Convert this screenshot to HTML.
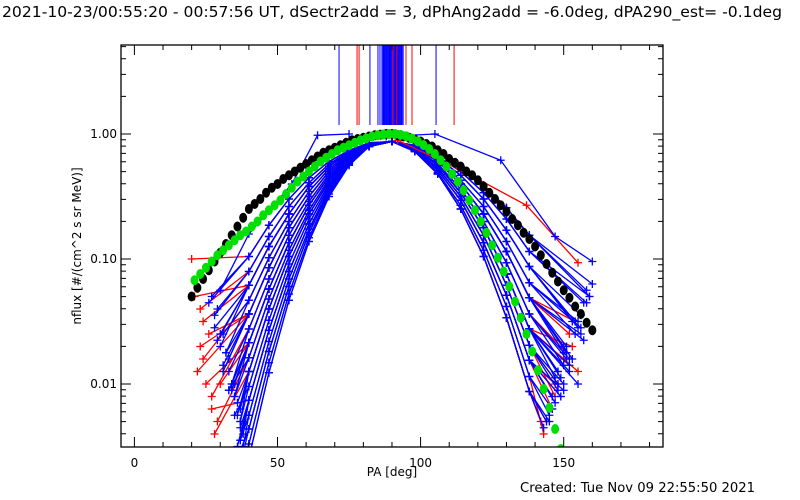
<!DOCTYPE html>
<html><head><meta charset="utf-8"><style>
body{margin:0;background:#fff;}
svg{display:block;font-family:"DejaVu Sans","Liberation Sans",sans-serif;}
</style></head><body>
<svg id="chart" width="800" height="500" viewBox="0 0 800 500">
<rect width="800" height="500" fill="#fff"/>
<text x="392" y="17" font-size="15.5" text-anchor="middle" textLength="780" lengthAdjust="spacingAndGlyphs">2021-10-23/00:55:20 - 00:57:56 UT, dSectr2add = 3, dPhAng2add = -6.0deg, dPA290_est= -0.1deg</text>
<g id="plot"></g>
<g id="axes"></g>
<text x="392" y="476" font-size="12" text-anchor="middle">PA [deg]</text>
<text transform="translate(81,246) rotate(-90)" font-size="12" text-anchor="middle">nflux [#/(cm^2 s sr MeV)]</text>
<text x="755" y="492" font-size="13" text-anchor="end" textLength="235" lengthAdjust="spacingAndGlyphs">Created: Tue Nov 09 22:55:50 2021</text>
</svg>
<script>
// ---- data ----
const xTicks = [0, 50, 100, 150];
const yTickVals = [0.01, 0.1, 1.0];
const yTickLabels = ["0.01", "0.10", "1.00"];
const gridPA = [40, 47, 54, 61, 68, 75, 82, 90, 98, 106, 114, 122, 130, 138];

const blueStartPA = [27,30,33,35,37,38,36,34,26,29,31,33,36,37,35,38,28,32,34,36,37,38,31,35,37,36,30,34, 29,31,33,35,37,38,36,28,32,34,33,35,37,38];
const blueStartLog = [-1.3,-1.6,-1.8,-2.0,-2.2,-2.4,-2.6,-2.9,-1.35,-1.65,-1.85,-2.05,-2.25,-2.45,-2.65,-2.95,-1.55,-1.75,-2.0,-2.15,-2.35,-2.55,-1.9,-2.1,-2.3,-2.5,-1.7,-2.05, -1.4,-1.6,-1.9,-2.1,-2.3,-2.5,-2.7,-1.45,-1.75,-2.0,-2.05,-2.25,-2.45,-2.7];
const blueGridLog = [
[-0.98,-0.73,-0.52,-0.35,-0.22,-0.13,-0.07,-0.06,-0.09,-0.16,-0.26,-0.41,-0.59,-0.81],
[-1.21,-0.90,-0.64,-0.42,-0.26,-0.14,-0.08,-0.06,-0.10,-0.19,-0.33,-0.52,-0.77,-1.06],
[-1.44,-1.07,-0.75,-0.50,-0.30,-0.16,-0.08,-0.06,-0.11,-0.22,-0.40,-0.64,-0.94,-1.31],
[-1.67,-1.24,-0.87,-0.57,-0.34,-0.18,-0.09,-0.06,-0.12,-0.25,-0.47,-0.75,-1.12,-1.56],
[-1.90,-1.40,-0.98,-0.64,-0.38,-0.20,-0.09,-0.06,-0.13,-0.29,-0.53,-0.87,-1.29,-1.81],
[-2.13,-1.57,-1.10,-0.72,-0.42,-0.21,-0.09,-0.06,-0.14,-0.32,-0.60,-0.98,-1.47,-2.06],
[-2.36,-1.74,-1.22,-0.79,-0.46,-0.23,-0.10,-0.06,-0.11,-0.22,-0.40,-0.64,-0.94,-1.31],
[-2.59,-1.91,-1.33,-0.86,-0.50,-0.25,-0.10,-0.06,-0.12,-0.25,-0.47,-0.75,-1.12,-1.56],
[-0.98,-0.73,-0.52,-0.35,-0.22,-0.13,-0.07,-0.06,-0.11,-0.22,-0.40,-0.64,-0.94,-1.31],
[-1.21,-0.90,-0.64,-0.42,-0.26,-0.14,-0.08,-0.06,-0.12,-0.25,-0.47,-0.75,-1.12,-1.56],
[-1.44,-1.07,-0.75,-0.50,-0.30,-0.16,-0.08,-0.06,-0.13,-0.29,-0.53,-0.87,-1.29,-1.81],
[-1.67,-1.24,-0.87,-0.57,-0.34,-0.18,-0.09,-0.06,-0.14,-0.32,-0.60,-0.98,-1.47,-2.06],
[-1.90,-1.40,-0.98,-0.64,-0.38,-0.20,-0.09,-0.06,-0.09,-0.16,-0.26,-0.41,-0.59,-0.81],
[-2.13,-1.57,-1.10,-0.72,-0.42,-0.21,-0.09,-0.06,-0.10,-0.19,-0.33,-0.52,-0.77,-1.06],
[-2.36,-1.74,-1.22,-0.79,-0.46,-0.23,-0.10,-0.06,-0.13,-0.29,-0.53,-0.87,-1.29,-1.81],
[-2.59,-1.91,-1.33,-0.86,-0.50,-0.25,-0.10,-0.06,-0.14,-0.32,-0.60,-0.98,-1.47,-2.06],
[-1.21,-0.90,-0.64,-0.42,-0.26,-0.14,-0.08,-0.06,-0.09,-0.16,-0.26,-0.41,-0.59,-0.81],
[-1.44,-1.07,-0.75,-0.50,-0.30,-0.16,-0.08,-0.06,-0.10,-0.19,-0.33,-0.52,-0.77,-1.06],
[-1.67,-1.24,-0.87,-0.57,-0.34,-0.18,-0.09,-0.06,-0.10,-0.19,-0.33,-0.52,-0.77,-1.06],
[-1.90,-1.40,-0.98,-0.64,-0.38,-0.20,-0.09,-0.06,-0.11,-0.22,-0.40,-0.64,-0.94,-1.31],
[-2.13,-1.57,-1.10,-0.72,-0.42,-0.21,-0.09,-0.06,-0.12,-0.25,-0.47,-0.75,-1.12,-1.56],
[-2.36,-1.74,-1.22,-0.79,-0.46,-0.23,-0.10,-0.06,-0.12,-0.25,-0.47,-0.75,-1.12,-1.56],
[-1.44,-1.07,-0.75,-0.50,-0.30,-0.16,-0.08,-0.06,-0.12,-0.25,-0.47,-0.75,-1.12,-1.56],
[-1.67,-1.24,-0.87,-0.57,-0.34,-0.18,-0.09,-0.06,-0.11,-0.22,-0.40,-0.64,-0.94,-1.31],
[-1.90,-1.40,-0.98,-0.64,-0.38,-0.20,-0.09,-0.06,-0.12,-0.25,-0.47,-0.75,-1.12,-1.56],
[-2.13,-1.57,-1.10,-0.72,-0.42,-0.21,-0.09,-0.06,-0.11,-0.22,-0.40,-0.64,-0.94,-1.31],
[-1.21,-0.90,-0.64,-0.42,-0.26,-0.14,-0.08,-0.06,-0.11,-0.22,-0.40,-0.64,-0.94,-1.31],
[-1.67,-1.24,-0.87,-0.57,-0.34,-0.18,-0.09,-0.06,-0.13,-0.29,-0.53,-0.87,-1.29,-1.81],
[-1.10,-0.82,-0.58,-0.39,-0.24,-0.14,-0.08,-0.06,-0.10,-0.18,-0.30,-0.47,-0.68,-0.94],
[-1.33,-0.99,-0.70,-0.46,-0.28,-0.15,-0.08,-0.06,-0.11,-0.21,-0.37,-0.58,-0.86,-1.19],
[-1.56,-1.16,-0.81,-0.54,-0.32,-0.17,-0.09,-0.06,-0.12,-0.24,-0.44,-0.70,-1.03,-1.44],
[-1.79,-1.32,-0.93,-0.61,-0.36,-0.19,-0.09,-0.06,-0.13,-0.27,-0.50,-0.81,-1.21,-1.69],
[-2.02,-1.49,-1.04,-0.68,-0.40,-0.21,-0.09,-0.06,-0.14,-0.31,-0.57,-0.93,-1.38,-1.94],
[-2.25,-1.66,-1.16,-0.76,-0.44,-0.22,-0.10,-0.06,-0.10,-0.18,-0.30,-0.47,-0.68,-0.94],
[-2.48,-1.83,-1.28,-0.83,-0.48,-0.24,-0.10,-0.06,-0.11,-0.21,-0.37,-0.58,-0.86,-1.19],
[-1.10,-0.82,-0.58,-0.39,-0.24,-0.14,-0.08,-0.06,-0.12,-0.24,-0.44,-0.70,-1.03,-1.44],
[-1.33,-0.99,-0.70,-0.46,-0.28,-0.15,-0.08,-0.06,-0.13,-0.27,-0.50,-0.81,-1.21,-1.69],
[-1.56,-1.16,-0.81,-0.54,-0.32,-0.17,-0.09,-0.06,-0.14,-0.31,-0.57,-0.93,-1.38,-1.94],
[-1.79,-1.32,-0.93,-0.61,-0.36,-0.19,-0.09,-0.06,-0.10,-0.18,-0.30,-0.47,-0.68,-0.94],
[-2.02,-1.49,-1.04,-0.68,-0.40,-0.21,-0.09,-0.06,-0.11,-0.21,-0.37,-0.58,-0.86,-1.19],
[-2.25,-1.66,-1.16,-0.76,-0.44,-0.22,-0.10,-0.06,-0.12,-0.24,-0.44,-0.70,-1.03,-1.44],
[-2.48,-1.83,-1.28,-0.83,-0.48,-0.24,-0.10,-0.06,-0.13,-0.27,-0.50,-0.81,-1.21,-1.69]
];
const blueEndPA = [158,154,151,148,146,144,150,147,157,152,149,145,160,156,147,143,159,155,153,150,149,152,155,153,148,151,156,150, 157,154,151,148,146,159,155,150,148,145,158,156,152,150];
const blueEndLog = [-1.25,-1.5,-1.7,-1.9,-2.1,-2.3,-1.75,-1.95,-1.65,-1.85,-2.1,-2.3,-1.2,-1.45,-2.15,-2.35,-1.3,-1.55,-1.5,-1.7,-1.95,-1.9,-2.0,-1.8,-1.9,-1.75,-1.6,-2.05, -1.35,-1.6,-1.8,-2.0,-2.2,-1.3,-1.5,-1.85,-2.05,-2.25,-1.35,-1.55,-1.8,-2.0];
const blueOutlierPA = [88, 105, 128, 147, 160];
const blueOutlierLog = [-0.02, 0.0, -0.21, -0.82, -1.02];
const blueOutlier2PA = [30, 40, 55, 64, 75];
const blueOutlier2Log = [-1.25, -0.8, -0.4, -0.01, 0.0];

const redStartPA = [20, 23, 25, 28, 24, 27, 22, 30, 21, 26, 24, 29, 23, 27];
const redStartLog = [-1.0, -1.7, -2.0, -2.4, -1.5, -2.2, -1.9, -2.0, -1.3, -1.6, -1.8, -2.3, -1.4, -2.1];
const redGridLog = [
[-0.98,-0.73,-0.52,-0.35,-0.22,-0.13,-0.07,-0.06,-0.12,-0.25,-0.47,-0.75,-1.12,-1.56],
[-1.44,-1.07,-0.75,-0.50,-0.30,-0.16,-0.08,-0.06,-0.13,-0.29,-0.53,-0.87,-1.29,-1.81],
[-1.67,-1.24,-0.87,-0.57,-0.34,-0.18,-0.09,-0.06,-0.11,-0.22,-0.40,-0.64,-0.94,-1.31],
[-1.90,-1.40,-0.98,-0.64,-0.38,-0.20,-0.09,-0.06,-0.14,-0.32,-0.60,-0.98,-1.47,-2.06],
[-1.21,-0.90,-0.64,-0.42,-0.26,-0.14,-0.08,-0.06,-0.12,-0.25,-0.47,-0.75,-1.12,-1.56],
[-2.13,-1.57,-1.10,-0.72,-0.42,-0.21,-0.09,-0.06,-0.13,-0.29,-0.53,-0.87,-1.29,-1.81],
[-1.44,-1.07,-0.75,-0.50,-0.30,-0.16,-0.08,-0.06,-0.14,-0.32,-0.60,-0.98,-1.47,-2.06],
[-1.67,-1.24,-0.87,-0.57,-0.34,-0.18,-0.09,-0.06,-0.12,-0.25,-0.47,-0.75,-1.12,-1.56],
[-1.21,-0.90,-0.64,-0.42,-0.26,-0.14,-0.08,-0.06,-0.13,-0.29,-0.53,-0.87,-1.29,-1.81],
[-1.44,-1.07,-0.75,-0.50,-0.30,-0.16,-0.08,-0.06,-0.11,-0.22,-0.40,-0.64,-0.94,-1.31],
[-1.33,-0.99,-0.70,-0.46,-0.28,-0.15,-0.08,-0.06,-0.13,-0.27,-0.50,-0.81,-1.21,-1.69],
[-1.79,-1.32,-0.93,-0.61,-0.36,-0.19,-0.09,-0.06,-0.14,-0.31,-0.57,-0.93,-1.38,-1.94],
[-1.10,-0.82,-0.58,-0.39,-0.24,-0.14,-0.08,-0.06,-0.12,-0.24,-0.44,-0.70,-1.03,-1.44],
[-1.56,-1.16,-0.81,-0.54,-0.32,-0.17,-0.09,-0.06,-0.13,-0.27,-0.50,-0.81,-1.21,-1.69]
];
const redEndPA = [150, 147, 152, 144, 155, 149, 142, 153, 146, 154, 148, 143, 151, 147];
const redEndLog = [-1.8, -2.0, -1.6, -2.3, -1.9, -2.1, -2.3, -1.7, -2.2, -1.5, -2.0, -2.4, -1.75, -2.1];
const redOutlierPA = [92, 115, 137, 155];
const redOutlierLog = [-0.05, -0.3, -0.57, -1.03];

const blackPA = [20,22,24,26,28,30,32,34,36,38,40,42,44,46,48,50,52,54,56,58,60,62,64,66,68,70,72,74,76,78,80,82,84,86,88,90,92,94,96,98,100,102,104,106,108,110,112,114,116,118,120,122,124,126,128,130,132,134,136,138,140,142,144,146,148,150,152,154,156,158,160];
const blackLog = [-1.30,-1.23,-1.16,-1.09,-1.02,-0.95,-0.88,-0.81,-0.74,-0.67,-0.60,-0.56,-0.52,-0.47,-0.43,-0.40,-0.36,-0.33,-0.30,-0.27,-0.24,-0.21,-0.18,-0.15,-0.13,-0.11,-0.09,-0.07,-0.05,-0.04,-0.03,-0.02,-0.01,-0.005,0,0,-0.01,-0.02,-0.03,-0.045,-0.06,-0.08,-0.10,-0.13,-0.16,-0.20,-0.23,-0.26,-0.30,-0.33,-0.37,-0.42,-0.47,-0.52,-0.57,-0.62,-0.68,-0.73,-0.79,-0.84,-0.90,-0.97,-1.04,-1.11,-1.18,-1.25,-1.31,-1.38,-1.44,-1.51,-1.57];

const greenPA = [21,23,25,27,29,31,33,35,37,39,41,43,45,47,49,51,53,55,57,59,61,63,65,67,69,71,73,75,77,79,81,83,85,87,89,91,93,95,97,99,101,103,105,107,109,111,113,115,117,119,121,123,125,127,129,131,133,135,137,139,141,143,145,147,149];
const greenLog = [-1.17,-1.12,-1.07,-1.02,-0.97,-0.93,-0.89,-0.85,-0.81,-0.78,-0.74,-0.70,-0.65,-0.61,-0.57,-0.53,-0.48,-0.43,-0.38,-0.34,-0.30,-0.26,-0.22,-0.19,-0.16,-0.13,-0.11,-0.09,-0.07,-0.05,-0.035,-0.02,-0.01,-0.004,0,0,-0.007,-0.018,-0.036,-0.059,-0.088,-0.12,-0.16,-0.21,-0.26,-0.32,-0.38,-0.45,-0.53,-0.61,-0.70,-0.79,-0.89,-0.99,-1.10,-1.22,-1.34,-1.47,-1.60,-1.74,-1.89,-2.04,-2.19,-2.36,-2.52];

const vlineBluePA = [71.5,82.3,85.1,85.8,86.5,86.9,87.2,87.5,87.8,88.1,88.4,88.7,89,89.3,89.6,89.9,90.2,90.5,90.8,91.1,91.4,91.7,92,92.3,92.6,92.9,93.2,93.5,93.9,105.4];
const vlineRedPA = [77.8,78.5,90.3,91.7,94.9,97.0,111.7];

// ---- scales ----
const L=121, R=663, T=45, B=447;
const x = pa => 134.4 + pa*2.862;
const y = lg => 134 - lg*125;
const NS="http://www.w3.org/2000/svg";
const plot=document.getElementById('plot'), axes=document.getElementById('axes');
function mk(tag, attrs, parent){const e=document.createElementNS(NS,tag);for(const k in attrs)e.setAttribute(k,attrs[k]);parent.appendChild(e);return e;}

const defs=mk('defs',{},plot);
const cp=mk('clipPath',{id:'clip'},defs);
mk('rect',{x:L,y:T,width:R-L,height:B-T},cp);
plot.setAttribute('clip-path','url(#clip)');

function drawSeries(pas, lgs, color, name){
  const g=mk('g',{},plot);
  
  
  const pts=pas.map((p,i)=>x(p).toFixed(1)+','+y(lgs[i]).toFixed(1)).join(' ');
  mk('polyline',{points:pts,fill:'none',stroke:color,'stroke-width':1.3},g);
  let d='';
  pas.forEach((p,i)=>{const cx=x(p),cy=y(lgs[i]);d+=`M${cx-4},${cy}h8M${cx},${cy-4}v8`;});
  mk('path',{d:d,stroke:color,'stroke-width':1.3,fill:'none'},g);
}
function gridSeries(sPA,sLog,grid,ePA,eLog,color,prefix){
  grid.forEach((row,i)=>{
    drawSeries([sPA[i],...gridPA,ePA[i]],[sLog[i],...row,eLog[i]],color,prefix+'-'+(i+1));
  });
}
gridSeries(redStartPA,redStartLog,redGridLog,redEndPA,redEndLog,'#ff0000','red-curve');
gridSeries(blueStartPA,blueStartLog,blueGridLog,blueEndPA,blueEndLog,'#0000ff','blue-curve');
drawSeries(redOutlierPA,redOutlierLog,'#ff0000','red-curve-outlier');
drawSeries(blueOutlierPA,blueOutlierLog,'#0000ff','blue-curve-outlier');
drawSeries(blueOutlier2PA,blueOutlier2Log,'#0000ff','blue-curve-outlier-2');

function dots(pas,lgs,color,name){
  const g=mk('g',{fill:color},plot);
  
  
  pas.forEach((p,i)=>mk('ellipse',{cx:x(p),cy:y(lgs[i]),rx:4,ry:5},g));
}
dots(blackPA,blackLog,'#000','black-model-dots');
dots(greenPA,greenLog,'#00e000','green-fit-dots');

const vg=mk('g',{'stroke-width':1},plot);


vlineBluePA.forEach(p=>mk('line',{x1:x(p),x2:x(p),y1:T,y2:125,stroke:'#0000ff'},vg));
vlineRedPA.forEach(p=>mk('line',{x1:x(p),x2:x(p),y1:T,y2:125,stroke:'#ff0000'},vg));

mk('rect',{x:L,y:T,width:R-L,height:B-T,fill:'none',stroke:'#000','stroke-width':1.3},axes);
let td='';
for(let p=0;p<=180;p+=10){const xx=x(p);const len=(p%50===0)?10:5;td+=`M${xx},${B}v${-len}M${xx},${T}v${len}`;}
for(let e=-3;e<=0;e++){for(let m=1;m<=9;m++){const lg=e+Math.log10(m);const yy=y(lg);if(yy<T||yy>B)continue;const len=m===1?10:5;td+=`M${L},${yy}h${len}M${R},${yy}h${-len}`;}}
mk('path',{d:td,stroke:'#000','stroke-width':1,fill:'none'},axes);
xTicks.forEach(v=>{const t=mk('text',{x:x(v),y:467,'font-size':12,'text-anchor':'middle'},axes);t.textContent=v;
  
  });
yTickVals.forEach((v,i)=>{const t=mk('text',{x:117,y:y(Math.log10(v))+4,'font-size':12,'text-anchor':'end'},axes);t.textContent=yTickLabels[i];
  
  });
</script>
</body></html>
